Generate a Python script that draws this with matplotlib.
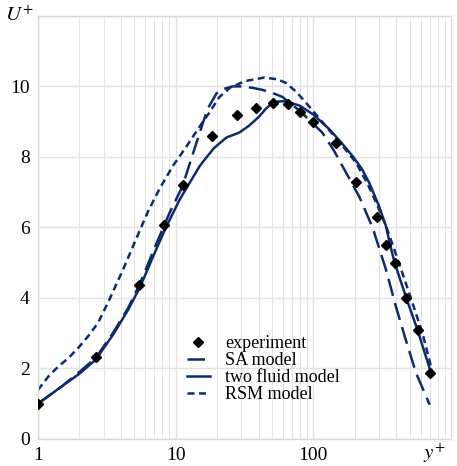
import numpy as np
import matplotlib.pyplot as plt

plt.rcParams['font.family'] = ['Liberation Serif', 'DejaVu Serif']
plt.rcParams['mathtext.fontset'] = 'stix'

# experiment points
exp_y = [1.0, 2.63, 5.4, 8.3, 11.4, 18.5, 27.7, 38.6, 51, 65, 80.5, 100, 145, 204, 289, 336, 393, 474, 577, 704]
exp_u = [1.0, 2.33, 4.38, 6.08, 7.19, 8.6, 9.2, 9.4, 9.52, 9.49, 9.26, 8.98, 8.38, 7.28, 6.3, 5.51, 4.99, 4.0, 3.1, 1.88]

# SA model
sa_y = [1.0, 1.5, 2.0, 2.63, 3.5, 4.5, 5.5, 7.0, 9.0, 11.2, 13.0, 15.0, 17.0, 19.8, 22.0, 26.0, 30.0, 36.0,
        42.7, 50.0, 59.6, 80, 116, 140, 168, 215, 269, 337, 398, 470, 557, 700]
sa_u = [1.0, 1.5, 1.9, 2.3, 3.0, 3.7, 4.4, 5.4, 6.4, 7.16, 7.95, 8.7, 9.35, 9.8, 9.92, 10.0, 10.0, 9.96,
        9.9, 9.82, 9.7, 9.3, 8.69, 8.2, 7.64, 6.88, 6.0, 4.8, 3.75, 2.8, 1.87, 0.97]

# two fluid model
tf_y = [1.0, 1.5, 2.0, 2.63, 3.5, 4.5, 5.5, 7.05, 8.5, 10.7, 12.8, 14.9, 17.0, 19.0, 23.4, 29, 34, 40.6,
        45, 49.6, 55, 63, 80, 100, 131, 160, 193, 225, 255, 300, 336, 361, 390, 470, 570, 716]
tf_u = [1.0, 1.5, 1.85, 2.25, 2.95, 3.65, 4.3, 5.28, 6.0, 6.79, 7.3, 7.73, 8.02, 8.25, 8.55, 8.69, 8.88, 9.15,
        9.36, 9.5, 9.57, 9.58, 9.45, 9.2, 8.78, 8.4, 8.02, 7.66, 7.26, 6.6, 6.05, 5.5, 4.99, 4.03, 3.1, 1.87]

# RSM model
rsm_y = [1.0, 1.19, 1.4, 1.66, 1.96, 2.31, 2.73, 3.3, 4.2, 5.2, 6.3, 7.65, 9.5, 12.0, 15.0, 17.6, 20.8, 25.0,
         32, 44, 55, 63, 75, 90, 124, 160, 204, 250, 286, 340, 418, 510, 620, 700, 740]
rsm_u = [1.39, 1.77, 2.05, 2.29, 2.58, 2.91, 3.29, 3.95, 4.85, 5.7, 6.45, 7.1, 7.73, 8.3, 8.87, 9.26, 9.7, 9.97,
         10.15, 10.25, 10.2, 10.1, 9.85, 9.5, 8.86, 8.35, 7.84, 7.2, 6.7, 6.0, 5.0, 4.0, 3.0, 2.2, 1.8]

navy = '#0c2c6c'
grid = '#e3e3e3'

fig = plt.figure(figsize=(4.57, 4.66), dpi=100)
ax = fig.add_axes([0.083, 0.058, 0.904, 0.908])

ax.set_xscale('log')
ax.set_xlim(1, 1000)
ax.set_ylim(0, 12)

ax.plot(exp_y, exp_u, 'D', color='black', markersize=5.5, label='experiment', zorder=5)
ax.plot(sa_y, sa_u, color=navy, lw=1.8, dashes=(7, 3), label='SA model')
ax.plot(tf_y, tf_u, color=navy, lw=1.8, label='two fluid model')
ax.plot(rsm_y, rsm_u, color=navy, lw=1.8, dashes=(2.8, 1.8), label='RSM model')

ax.set_xticks([1, 10, 100])
ax.set_xticklabels(['1', '10', '100'])
ax.set_yticks([0, 2, 4, 6, 8, 10, 12])
ax.set_yticklabels(['0', '2', '4', '6', '8', '10', ''])
ax.tick_params(axis='both', which='both', length=0, labelsize=14, pad=6)
ax.grid(True, which='major', color=grid, lw=1.0)
ax.grid(True, which='minor', axis='x', color=grid, lw=0.8)
for s in ax.spines.values():
    s.set_color('#d9d9d9')
    s.set_linewidth(1.0)
ax.set_axisbelow(True)

fig.text(0.012, 0.955, '$U^{+}$', fontsize=15)
fig.text(0.925, 0.016, '$y^{+}$', fontsize=15)

ax.legend(loc='upper left', bbox_to_anchor=(0.36, 0.245), frameon=False,
          fontsize=13, handlelength=1.3, handletextpad=0.85, labelspacing=0.0,
          borderpad=0, borderaxespad=0)

fig.savefig('out.png', dpi=100)
